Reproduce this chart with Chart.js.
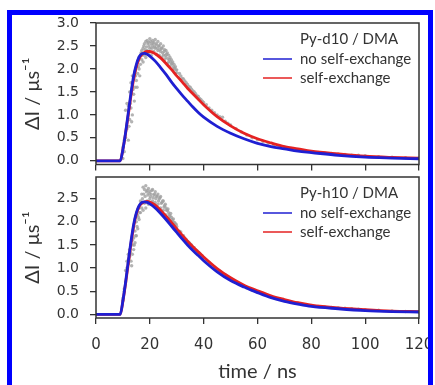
<!DOCTYPE html>
<html>
<head>
<meta charset="utf-8">
<script src="https://cdn.jsdelivr.net/npm/chart.js@4/dist/chart.umd.min.js"></script>
<style>
  body { margin: 0; background: #fff; width: 435px; height: 385px; overflow: hidden; position: relative; }
  canvas { position: absolute; left: 0; }
  #top { top: 0; }
  #bottom { top: 172px; }
  #frame { position: absolute; left: 7px; top: 10px; width: 416px; height: 400px; border: 5px solid #0000ff; border-bottom: none; }
</style>
</head>
<body>
<canvas id="top" width="435" height="172"></canvas>
<canvas id="bottom" width="435" height="213"></canvas>
<div id="frame"></div>
<script>
// model curves, time in ns
const timeCurve = [0, 9, 10, 11, 12, 13, 14, 15, 16, 17, 18, 19, 20, 22, 24, 26, 28, 30, 32, 34, 36, 38, 40,
  45, 50, 55, 60, 65, 70, 75, 80, 90, 100, 110, 120];

const topNoExchange = [0, 0, 0.25, 0.62, 1.05, 1.48, 1.85, 2.1, 2.26, 2.33, 2.34, 2.32, 2.28, 2.17, 2.03, 1.88, 1.72,
  1.57, 1.43, 1.3, 1.17, 1.05, 0.95, 0.75, 0.6, 0.48, 0.38, 0.31, 0.26, 0.21, 0.18, 0.12, 0.08, 0.06, 0.045];
const topExchange = [0, 0, 0.25, 0.6, 1.0, 1.42, 1.78, 2.05, 2.22, 2.31, 2.36, 2.38, 2.38, 2.33, 2.24, 2.12, 1.99,
  1.85, 1.72, 1.58, 1.46, 1.34, 1.22, 0.96, 0.76, 0.6, 0.48, 0.39, 0.31, 0.26, 0.21, 0.15, 0.1, 0.075, 0.06];

const bottomNoExchange = [0, 0, 0.3, 0.7, 1.15, 1.58, 1.95, 2.2, 2.35, 2.42, 2.43, 2.42, 2.39, 2.3, 2.18, 2.05, 1.91,
  1.77, 1.63, 1.5, 1.38, 1.27, 1.16, 0.92, 0.73, 0.59, 0.47, 0.36, 0.28, 0.22, 0.17, 0.12, 0.08, 0.06, 0.05];
const bottomExchange = [0, 0, 0.28, 0.67, 1.1, 1.53, 1.9, 2.17, 2.33, 2.4, 2.43, 2.44, 2.43, 2.36, 2.25, 2.12, 1.99,
  1.85, 1.71, 1.58, 1.46, 1.35, 1.24, 0.99, 0.79, 0.63, 0.51, 0.4, 0.32, 0.25, 0.2, 0.14, 0.1, 0.07, 0.06];

// measured points (grey), same time grid for both panels
const scatterTime = [10, 10, 10.5, 10.5, 11, 11, 11.5, 11.5, 12, 12, 12.5, 12.5, 13, 13, 13.5, 13.5, 14, 14, 14.5, 14.5,
  15, 15, 15.5, 15.5, 16, 16, 16.5, 16.5, 17, 17, 17.5, 17.5, 18, 18, 18.5, 18.5, 19, 19, 19.5, 19.5,
  20, 20, 20.5, 20.5, 21, 21, 21.5, 21.5, 22, 22, 22.5, 22.5, 23, 23, 23.5, 23.5, 24, 24, 24.5, 24.5,
  25, 25, 25.5, 25.5, 26, 26, 26.5, 26.5, 27, 27, 27.5, 27.5, 28, 28, 28.5, 28.5, 29, 29, 29.5, 29.5, 30, 30,
  31, 32, 33, 34, 35, 36, 37, 38, 39, 40, 41, 42, 43, 44, 45, 46, 47, 48, 49, 50,
  52, 54, 56, 58, 60, 62, 64, 66, 68, 70,
  72.5, 75, 77.5, 80, 82.5, 85, 87.5, 90, 92.5, 95, 97.5, 100, 105, 110, 115, 120];

const topScatter = [0.05, 0.3, 0.45, 0.2, 0.5, 1.1, 0.7, 1.25, 0.45, 1.2, 0.9, 1.5, 1.15, 1.7, 1.0, 1.85, 1.45, 1.8, 1.6, 1.95,
  1.75, 2.05, 1.9, 2.15, 2.0, 2.25, 2.1, 2.3, 2.2, 2.4, 2.15, 2.45, 2.3, 2.55, 2.25, 2.6, 2.4, 2.62, 2.35, 2.58,
  2.45, 2.66, 2.3, 2.55, 2.5, 2.62, 2.38, 2.58, 2.45, 2.64, 2.32, 2.55, 2.4, 2.6, 2.3, 2.5, 2.38, 2.55, 2.25, 2.45,
  2.3, 2.5, 2.2, 2.42, 2.25, 2.4, 2.12, 2.35, 2.15, 2.3, 2.05, 2.25, 2.1, 2.2, 1.98, 2.15, 2.0, 2.1, 1.9, 2.05, 1.92, 1.98,
  1.9, 1.8, 1.74, 1.66, 1.6, 1.52, 1.46, 1.4, 1.33, 1.27, 1.22, 1.15, 1.1, 1.05, 1.0, 0.96, 0.95, 0.86, 0.82, 0.78,
  0.7, 0.63, 0.56, 0.5, 0.46, 0.42, 0.38, 0.35, 0.32, 0.3,
  0.27, 0.24, 0.22, 0.2, 0.18, 0.17, 0.16, 0.15, 0.14, 0.12, 0.12, 0.11, 0.09, 0.08, 0.07, 0.06];

const bottomScatter = [0.3, 0.35, 0.5, 0.55, 0.95, 0.7, 1.0, 1.15, 1.1, 1.3, 1.25, 1.4, 1.15, 1.5, 1.3, 1.6, 1.4, 1.65, 1.55, 1.8,
  1.7, 2.0, 1.85, 2.15, 2.05, 2.3, 2.2, 2.45, 2.3, 2.6, 2.25, 2.75, 2.4, 2.7, 2.3, 2.78, 2.45, 2.68, 2.38, 2.72,
  2.5, 2.66, 2.4, 2.6, 2.45, 2.7, 2.35, 2.58, 2.42, 2.65, 2.3, 2.55, 2.38, 2.6, 2.28, 2.5, 2.3, 2.55, 2.2, 2.42,
  2.25, 2.45, 2.15, 2.35, 2.15, 2.3, 2.05, 2.25, 2.08, 2.2, 1.98, 2.12, 2.0, 2.1, 1.92, 2.02, 1.93, 1.98, 1.85, 1.95, 1.85, 1.9,
  1.8, 1.7, 1.65, 1.58, 1.52, 1.45, 1.4, 1.34, 1.28, 1.22, 1.17, 1.12, 1.06, 1.02, 0.97, 0.93, 0.88, 0.85, 0.81, 0.77,
  0.7, 0.64, 0.57, 0.52, 0.48, 0.44, 0.4, 0.36, 0.33, 0.3,
  0.27, 0.24, 0.21, 0.19, 0.17, 0.16, 0.15, 0.14, 0.13, 0.12, 0.11, 0.1, 0.09, 0.07, 0.06, 0.05];

// extra measured points in the crowded peak region
const extraTime = [12.25, 12.75, 13.25, 13.75, 14.25, 14.75, 15.25, 15.75, 16.25, 16.75, 17.25, 17.75, 18.25, 18.75,
  19.25, 19.75, 20.25, 20.75, 21.25, 21.75, 22.25, 22.75, 23.25, 23.75, 24.25, 24.75, 25.25, 25.75, 26.25, 26.75,
  27.25, 27.75, 28.25, 28.75, 29.25, 29.75, 31.5, 32.5, 33.5, 34.5, 35.5, 36.5, 37.5, 38.5, 39.5];
const topExtra = [0.75, 1.25, 0.85, 1.55, 1.3, 1.85, 1.6, 2.05, 1.85, 2.35, 2.3, 2.5, 2.42, 2.48,
  2.55, 2.5, 2.6, 2.45, 2.55, 2.48, 2.52, 2.45, 2.5, 2.42, 2.45, 2.35, 2.38, 2.3, 2.32, 2.22,
  2.2, 2.15, 2.12, 2.05, 2.02, 1.98, 1.85, 1.78, 1.7, 1.62, 1.56, 1.5, 1.42, 1.36, 1.3];
const bottomExtra = [1.2, 1.35, 1.05, 1.5, 1.5, 1.7, 1.9, 2.1, 2.2, 2.4, 2.5, 2.6, 2.55, 2.65,
  2.58, 2.62, 2.55, 2.68, 2.52, 2.6, 2.5, 2.56, 2.45, 2.52, 2.4, 2.45, 2.32, 2.38, 2.25, 2.28,
  2.15, 2.18, 2.05, 2.06, 1.98, 1.95, 1.78, 1.7, 1.62, 1.56, 1.5, 1.44, 1.38, 1.32, 1.26];

const xTicks = [0, 20, 40, 60, 80, 100, 120];
const topYTicks = [0, 0.5, 1, 1.5, 2, 2.5, 3];
const bottomYTicks = [0, 0.5, 1, 1.5, 2, 2.5];
const seriesLabels = ["no self-exchange", "self-exchange"];

const BLUE = "#1f1fd2";
const RED = "#e52222";
const GRAY = "rgba(160,160,160,0.8)";
const INK = "#333333";

function pts(xs, ys) {
  return xs.map((x, i) => ({ x: x, y: ys[i] }));
}

// box around the plot area
const framePlugin = {
  id: "frame",
  afterDatasetsDraw(chart) {
    const { ctx, chartArea: a } = chart;
    ctx.save();
    ctx.strokeStyle = INK;
    ctx.lineWidth = 1.5;
    ctx.strokeRect(a.left, a.top, a.right - a.left, a.bottom - a.top);
    ctx.restore();
  },
};

// legend inside the upper right corner
const boxLegend = {
  id: "boxLegend",
  afterDraw(chart, args, opts) {
    const { ctx, chartArea: a } = chart;
    const x0 = a.right - 156;
    const tx = a.right - 119;
    ctx.save();
    ctx.font = "15px Lato";
    ctx.fillStyle = INK;
    ctx.textBaseline = "middle";
    ctx.fillText(opts.title, tx, a.top + 16);
    [0, 1].forEach((i) => {
      const ds = chart.data.datasets[i];
      const y = a.top + 36 + i * 19;
      ctx.strokeStyle = ds.borderColor;
      ctx.lineWidth = 1.5;
      ctx.beginPath();
      ctx.moveTo(x0, y);
      ctx.lineTo(x0 + 29, y);
      ctx.stroke();
      ctx.fillText(ds.label, tx, y);
    });
    ctx.restore();
  },
};

function build(id, o) {
  return new Chart(document.getElementById(id), {
    type: "scatter",
    data: {
      datasets: [
        {
          label: seriesLabels[0],
          data: pts(timeCurve, o.noEx),
          showLine: true,
          borderColor: BLUE,
          borderWidth: 2.8,
          pointRadius: 0,
          cubicInterpolationMode: "monotone",
        },
        {
          label: seriesLabels[1],
          data: pts(timeCurve, o.ex),
          showLine: true,
          borderColor: RED,
          borderWidth: 2.8,
          pointRadius: 0,
          cubicInterpolationMode: "monotone",
        },
        {
          label: "data",
          data: pts(scatterTime, o.scatter),
          pointRadius: 1.7,
          backgroundColor: GRAY,
          borderWidth: 0,
        },
        {
          label: "data2",
          data: pts(extraTime, o.extra),
          pointRadius: 1.7,
          backgroundColor: GRAY,
          borderWidth: 0,
        },
      ],
    },
    options: {
      responsive: false,
      animation: false,
      devicePixelRatio: 1,
      layout: { padding: { left: 0, right: 16, top: o.padTop, bottom: 0 } },
      plugins: {
        legend: { display: false },
        tooltip: { enabled: false },
        boxLegend: { title: o.title },
      },
      scales: {
        x: {
          type: "linear",
          min: 0,
          max: 120,
          afterBuildTicks: (s) => { s.ticks = xTicks.map((v) => ({ value: v })); },
          afterFit: (s) => {
            s.height = o.xHeight;
            s.paddingLeft = 0; s.paddingRight = 0; s.paddingTop = 0; s.paddingBottom = 0;
          },
          grid: { drawOnChartArea: false, drawTicks: true, tickLength: 6, color: INK, lineWidth: 1.3 },
          border: { display: false },
          ticks: {
            display: o.showX,
            color: INK,
            padding: 12,
            maxRotation: 0,
            font: { family: "DejaVu Sans", size: 15 },
          },
          title: {
            display: o.showX,
            text: "time / ns",
            color: INK,
            font: { family: "Lato", size: 20 },
            padding: { top: 0, bottom: 1 },
          },
        },
        y: {
          type: "linear",
          min: -0.08,
          max: o.yMax,
          afterBuildTicks: (s) => { s.ticks = o.yTicks.map((v) => ({ value: v })); },
          afterFit: (s) => {
            s.width = 96;
            s.paddingLeft = 0; s.paddingRight = 0; s.paddingTop = 0; s.paddingBottom = 0;
          },
          grid: { drawOnChartArea: false, drawTicks: true, tickLength: 6, color: INK, lineWidth: 1.3 },
          border: { display: false },
          ticks: {
            color: INK,
            padding: 11,
            font: { family: "DejaVu Sans", size: 14 },
            callback: (v) => Number(v).toFixed(1),
          },
          title: {
            display: true,
            text: "ΔI / μs⁻¹",
            color: INK,
            font: { family: "Lato", size: 20 },
            padding: { top: 21, bottom: 0 },
          },
        },
      },
    },
    plugins: [framePlugin, boxLegend],
  });
}

build("top", {
  noEx: topNoExchange, ex: topExchange, scatter: topScatter, extra: topExtra,
  yMax: 3.0, yTicks: topYTicks, padTop: 23, xHeight: 7.5, showX: false, title: "Py-d10 / DMA",
});

build("bottom", {
  noEx: bottomNoExchange, ex: bottomExchange, scatter: bottomScatter, extra: bottomExtra,
  yMax: 2.97, yTicks: bottomYTicks, padTop: 5, xHeight: 67, showX: true, title: "Py-h10 / DMA",
});
</script>
</body>
</html>
